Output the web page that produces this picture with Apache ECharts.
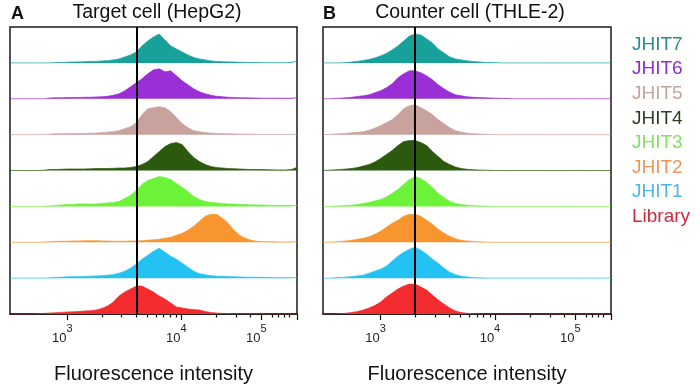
<!DOCTYPE html>
<html>
<head>
<meta charset="utf-8">
<script src="https://cdn.jsdelivr.net/npm/echarts@6/dist/echarts.min.js"></script>
<style>
  html, body { margin: 0; padding: 0; background: #fff; }
  #chart { width: 700px; height: 390px; }
</style>
</head>
<body>
<div id="chart"></div>
<script>
// display channels of the biexponential scale (0 = left frame edge, 1000 = right frame edge)
const channels = [0,20,40,60,80,100,120,140,160,180,200,220,240,260,280,300,320,340,360,380,
  400,420,440,460,480,500,520,540,560,580,600,620,640,660,680,700,720,740,760,780,
  800,820,840,860,880,900,920,940,960,980,1000];

// axis ticks, in channel units
const decadeTicks = [200, 597, 876];
const decadeExps = ['3', '4', '5'];
const minorTicks = [320, 389, 439, 477, 509, 535, 558, 579, 718, 788, 837, 914, 935, 956, 973];
const gateTarget = 442;
const gateCounter = 320;

const rowNames = ['JHIT7', 'JHIT6', 'JHIT5', 'JHIT4', 'JHIT3', 'JHIT2', 'JHIT1', 'Library'];
const fillColors = ['#18a09b', '#9b2fd6', '#c9a19d', '#2b5a0e', '#6df23a', '#f8952f', '#24c2f2', '#f22c2f'];
const textColors = ['#2a8c8c', '#8e2ec4', '#c2a4a0', '#294020', '#83e063', '#f0955a', '#4fb6e6', '#d0283c'];

// Target cell (HepG2), counts per channel
const hepJhit7 = [0,0,0,0,0,0,0,0,0.3,0.5, 0.7,0.8,1,1.2,1.5,1.5,2,2.2,3,4, 6,8,11,17,22,26,29,23,17,14, 11,8,5.5,4,3,2,1.5,1.2,1,0.8, 0.6,0.5,0.4,0.3,0.2,0.1,0.1,0.1,0.1,0.5, 2];
const hepJhit6 = [0,0,0,0,0,0,0,0.8,1,1, 1.2,1.2,1.3,1.5,1.5,1.8,2,2.5,3.5,5, 8,12,16,20,25,29,30,27,28,23, 18,14,10,7,5,3.5,2.5,2,1.5,1.2, 1,1,0.8,0.7,0.6,0.5,0.5,0.5,0.5,0.6, 1];
const hepJhit5 = [0,0,0,0,0,0,0,0.5,0.8,1, 1,1,1.2,1.2,1.5,1.5,2,2.5,3,4, 6,8,12,20,26,27,28,27,23,17, 11,7,4,3,2,1.5,1.2,1,0.8,0.7, 0.5,0.4,0.3,0.2,0.2,0.2,0.2,0.2,0.2,0.2, 0.3];
const hepJhit4 = [0,0,0,0,0,0,0.3,1,1,1.2, 1.5,1.5,1.5,1.5,1.7,2,2,2,2.2,2.5, 2.5,3,4,6,9,14,19,24,27,28, 26,19,13,9,6,4,3,2.5,2,1.8, 1.5,1.2,1,1,1,0.8,0.6,0.5,0.5,1, 3];
const hepJhit3 = [0,0,0,0,0,0,0.2,0.5,1,1.5, 1.8,2,2.5,2.5,2.3,2.5,3,3.5,4,5, 8,11,16,22,26,28,30,29,27,23, 19,15,10,7,5,4,3.5,3,2.5,2.3, 2,1.8,1.5,1.5,1.3,1.2,1,0.8,0.8,0.8, 0.8];
const hepJhit2 = [0,0,0,0,0,0,0.2,0.5,0.8,1, 1,1.2,1.3,1.5,1.5,1.5,1.3,1.2,1,1, 1,1.2,1.3,1.5,2,2.5,3,4,5,7, 9,12,16,21,26,28,28,24,19,12, 7,4,2,1,0.7,0.5,0.4,0.3,0.3,0.3, 0.5];
const hepJhit1 = [0,0,0,0,0,0,0,0.3,0.6,1, 1.3,1.5,1.5,1.7,2,2.2,2.5,3,3.5,5, 7,10,14,19,23,27,30,26,22,19, 15,11,7,4.5,3.5,2.5,2,2,1.5,1.5, 1.2,1,1,0.8,0.8,0.6,0.5,0.5,0.5,0.5, 0.5];
const hepLibrary = [0,0,0,0,0,0.3,0.6,1,1.3,1.6, 2,2.2,2.5,3,3.2,4,5.5,8,12,18, 22,25,28,28,25,22,18,15,11,7, 6,5,4.5,4,2.5,1.5,1,0.7,0.5,0.3, 0.2,0.2,0.2,0.2,0.2,0,0,0,0,0, 0];

// Counter cell (THLE-2), counts per channel
const thlJhit7 = [0,0,0,0,0.3,0.8,1.5,2.5,3.5,5, 7,9.5,13,17,22,27,29,28,24,20, 14,10,6,4,3,2,1.5,1,0.5,0.3, 0.2,0,0,0,0,0,0,0,0,0, 0,0,0,0,0,0,0,0,0,0, 0];
const thlJhit6 = [0,0,0.3,0.6,1,1.5,2.3,3,4,6, 8,11,15,21,25,28,28,26,23,19, 14,10,6.5,4,3,2,1.5,1.2,1,0.8, 0.6,0.4,0.2,0,0,0,0,0,0,0, 0,0,0,0,0,0,0,0,0,0, 0];
const thlJhit5 = [0,0.2,0.5,0.8,1.2,1.8,2.3,3,4.5,6.5, 9,12,15,20,26,29,30,27,24,20, 15,11,7,4,2.5,1.5,1,0.6,0.3,0.2, 0,0,0,0,0,0,0,0,0,0, 0,0,0,0,0,0,0,0,0,0, 0];
const thlJhit4 = [0,0.3,0.6,1,1.5,2,3,4.5,6,8.5, 12,16,20,25,29,30,30,28,25,19, 14,9,6,3.5,2,1.2,0.8,0.5,0.3,0.2, 0,0,0,0,0,0,0,0,0,0, 0,0,0,0,0,0,0,0,0,0, 0];
const thlJhit3 = [0,0,0.3,0.5,0.8,1.2,2,3,4,5.5, 7,9.5,13,17,22,27,30,28,24,19, 13,9,5,3,2,1.2,0.8,0.5,0.3,0, 0,0,0,0,0,0,0,0,0,0, 0,0,0,0,0,0,0,0,0,0, 0];
const thlJhit2 = [0,0,0.3,0.8,1.3,2,3,4,5.5,8, 11,15,19,22,26,28,28,26,22,18, 13,9,6,3.5,2,1.2,0.8,0.5,0.3,0, 0,0,0,0,0,0,0,0,0,0, 0,0,0,0,0,0,0,0,0,0, 0];
const thlJhit1 = [0,0,0.3,0.6,1,1.5,2.2,3,5,7, 9,12,17,22,26,29,31,28,24,19, 15,10,6,3.5,2,1.2,0.7,0.4,0.2,0, 0,0,0,0,0,0,0,0,0,0, 0,0,0,0,0,0,0,0,0,0, 0];
const thlLibrary = [0,0,0,0.3,0.8,1.5,2.5,4,6,8.5, 12,17,21,25,28,30,30,27,24,19, 14,10,6,3,1.5,0.7,0.3,0.1,0,0, 0,0,0,0,0,0,0,0,0,0, 0,0,0,0,0,0,0,0,0,0, 0];

const targetRows = [hepJhit7, hepJhit6, hepJhit5, hepJhit4, hepJhit3, hepJhit2, hepJhit1, hepLibrary];
const counterRows = [thlJhit7, thlJhit6, thlJhit5, thlJhit4, thlJhit3, thlJhit2, thlJhit1, thlLibrary];

const ROW = 36;
const FONT = '"Liberation Sans", Arial, Helvetica, sans-serif';

const buildSeries = (rows, panel, gate) => rows.map((hist, r) => {
  const base = (rows.length - 1 - r) * ROW;
  const s = {
    name: rowNames[r],
    type: 'line',
    xAxisIndex: panel * 2,
    yAxisIndex: panel,
    data: channels.map((c, i) => [c, base + hist[i]]),
    symbol: 'none',
    silent: true,
    lineStyle: {color: fillColors[r], width: 1, opacity: 0.7},
    itemStyle: {color: fillColors[r]},
    areaStyle: {color: fillColors[r], opacity: 1, origin: base},
  };
  if (r === rows.length - 1) {
    s.markLine = {
      silent: true,
      symbol: ['none', 'none'],
      label: {show: false},
      lineStyle: {color: '#000', width: 2, type: 'solid'},
      data: [{xAxis: gate}],
    };
  }
  return s;
});

const xAxesFor = (panel) => [
  {
    gridIndex: panel, type: 'value', min: 0, max: 1000, position: 'bottom',
    axisLine: {show: true, lineStyle: {color: '#111', width: 1.5}},
    axisTick: {show: true, customValues: [...decadeTicks, 1000], length: 6, lineStyle: {color: '#111', width: 1.2}},
    axisLabel: {
      customValues: decadeTicks,
      margin: 9,
      padding: [0, 10, 0, 0],
      formatter: (v) => '{b|10}{s|' + decadeExps[decadeTicks.indexOf(v)] + '}',
      rich: {
        b: {fontSize: 13, fontFamily: FONT, color: '#222', lineHeight: 22, verticalAlign: 'bottom'},
        s: {fontSize: 11, fontFamily: FONT, color: '#222', lineHeight: 10, verticalAlign: 'top'},
      },
    },
    splitLine: {show: false},
    name: 'Fluorescence intensity',
    nameLocation: 'middle',
    nameGap: 50,
    nameTextStyle: {fontSize: 20, fontFamily: FONT, color: '#111'},
  },
  {
    gridIndex: panel, type: 'value', min: 0, max: 1000, position: 'bottom',
    axisLine: {show: false},
    axisTick: {show: true, customValues: minorTicks, length: 3.5, lineStyle: {color: '#111', width: 1.2}},
    axisLabel: {show: false},
    splitLine: {show: false},
  },
];

const chart = echarts.init(document.getElementById('chart'));
chart.setOption({
  animation: false,
  backgroundColor: '#fff',
  textStyle: {fontFamily: FONT},
  graphic: [
    {type: 'text', x: 11, y: 14, style: {text: 'A', fontSize: 18, fontWeight: 'bold', fontFamily: FONT, fill: '#111', textVerticalAlign: 'middle'}},
    {type: 'text', x: 157, y: 13, style: {text: 'Target cell (HepG2)', fontSize: 19.5, fontFamily: FONT, fill: '#111', textAlign: 'center', textVerticalAlign: 'middle'}},
    {type: 'text', x: 323, y: 14, style: {text: 'B', fontSize: 18, fontWeight: 'bold', fontFamily: FONT, fill: '#111', textVerticalAlign: 'middle'}},
    {type: 'text', x: 470, y: 13, style: {text: 'Counter cell (THLE-2)', fontSize: 19.5, fontFamily: FONT, fill: '#111', textAlign: 'center', textVerticalAlign: 'middle'}},
  ],
  legend: {
    orient: 'vertical',
    left: 622,
    top: 30,
    itemWidth: 0,
    itemHeight: 19,
    itemGap: 5.6,
    selectedMode: false,
    textStyle: {fontSize: 19, fontFamily: FONT},
    data: rowNames.map((n, i) => ({name: n, icon: 'none', textStyle: {color: textColors[i]}})),
  },
  grid: [
    {left: 10, top: 27, width: 287, height: 287, show: true, borderColor: '#1a1a1a', borderWidth: 1.5, backgroundColor: 'transparent'},
    {left: 323, top: 27, width: 288, height: 287, show: true, borderColor: '#1a1a1a', borderWidth: 1.5, backgroundColor: 'transparent'},
  ],
  xAxis: [...xAxesFor(0), ...xAxesFor(1)],
  yAxis: [
    {gridIndex: 0, type: 'value', min: 0, max: ROW * 8, show: false},
    {gridIndex: 1, type: 'value', min: 0, max: ROW * 8, show: false},
  ],
  series: [
    ...buildSeries(targetRows, 0, gateTarget),
    ...buildSeries(counterRows, 1, gateCounter),
  ],
});
</script>
</body>
</html>
